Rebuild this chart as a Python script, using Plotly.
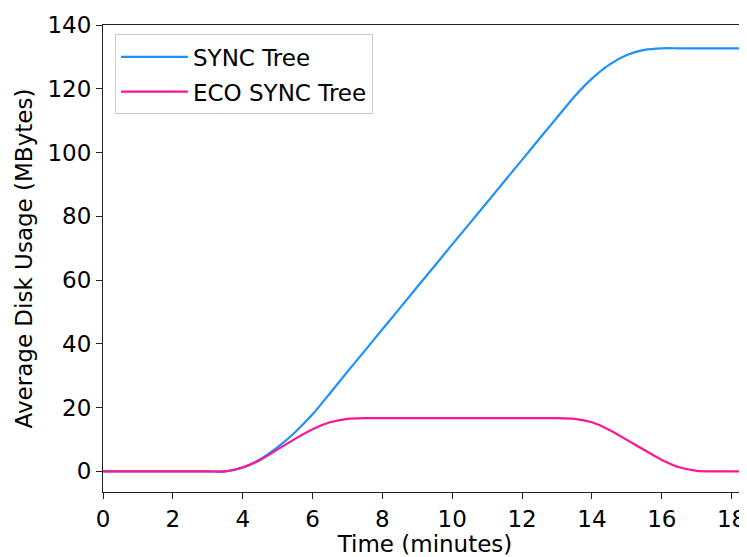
import plotly.graph_objects as go

time_min = [0.0, 0.5, 1.0, 1.5, 2.0, 2.5, 3.0, 3.5, 4.0, 4.5, 5.0, 5.5, 6.0, 6.5,
            7.0, 7.5, 8.0, 8.5, 9.0, 9.5, 10.0, 10.5, 11.0, 11.5, 12.0, 12.5,
            13.0, 13.5, 14.0, 14.5, 15.0, 15.5, 16.0, 16.5, 17.0, 17.5, 18.0,
            18.5, 19.0]

sync_tree = [0, 0, 0, 0, 0, 0, 0, 0, 1.2, 3.8, 7.6, 12.3, 17.9, 24.5,
             31.3, 37.9, 44.6, 51.2, 57.9, 64.5, 71.2, 77.8, 84.4, 91.1, 97.7, 104.4,
             111.0, 117.6, 123.2, 127.6, 130.6, 132.2, 132.7, 132.7, 132.7, 132.7, 132.7,
             132.7, 132.7]

eco_sync_tree = [0, 0, 0, 0, 0, 0, 0, 0, 1.3, 3.6, 6.9, 10.2, 13.2, 15.4,
                 16.5, 16.7, 16.7, 16.7, 16.7, 16.7, 16.7, 16.7, 16.7, 16.7, 16.7, 16.7,
                 16.7, 16.5, 15.4, 13.0, 9.9, 6.7, 3.6, 1.3, 0.2, 0, 0,
                 0, 0]

x_ticks = [0, 2, 4, 6, 8, 10, 12, 14, 16, 18]
y_ticks = [0, 20, 40, 60, 80, 100, 120, 140]

FONT = "DejaVu Sans"
FS = 23

fig = go.Figure()
fig.add_trace(go.Scatter(x=time_min, y=sync_tree, mode="lines", name="SYNC Tree",
                         legendgroup="a",
                         line=dict(color="#1E90FF", width=2.2, shape="spline", smoothing=0.6)))
fig.add_trace(go.Scatter(x=time_min, y=eco_sync_tree, mode="lines", name="ECO SYNC Tree",
                         legendgroup="b",
                         line=dict(color="#FF1493", width=2.2, shape="spline", smoothing=0.6)))

fig.update_layout(
    width=739, height=549,
    margin=dict(l=95, r=0, t=17, b=65),
    paper_bgcolor="white", plot_bgcolor="white",
    font=dict(family=FONT, size=FS, color="black"),
    showlegend=True,
    legend=dict(x=0.0186, y=0.98, xanchor="left", yanchor="top",
                bgcolor="rgba(255,255,255,0.8)", bordercolor="#cccccc", borderwidth=1,
                font=dict(family=FONT, size=FS, color="black"),
                itemwidth=67, tracegroupgap=2),
    xaxis=dict(range=[0, 18.44], tickvals=x_ticks, ticktext=[str(v) for v in x_ticks],
               showgrid=False, zeroline=False, showline=True, linecolor="#222", linewidth=1.2,
               mirror=True, ticks="outside", ticklen=6, tickwidth=1.2, tickcolor="#222",
               title=dict(text="Time (minutes)", standoff=2, font=dict(size=FS))),
    yaxis=dict(range=[-6.45, 140], tickvals=y_ticks, ticktext=[str(v) for v in y_ticks],
               showgrid=False, zeroline=False, showline=True, linecolor="#222", linewidth=1.2,
               mirror=False, ticks="outside", ticklen=6, tickwidth=1.2, tickcolor="#222",
               title=dict(text="Average Disk Usage (MBytes)", standoff=8, font=dict(size=FS))),
)

fig.write_html("out.html")
